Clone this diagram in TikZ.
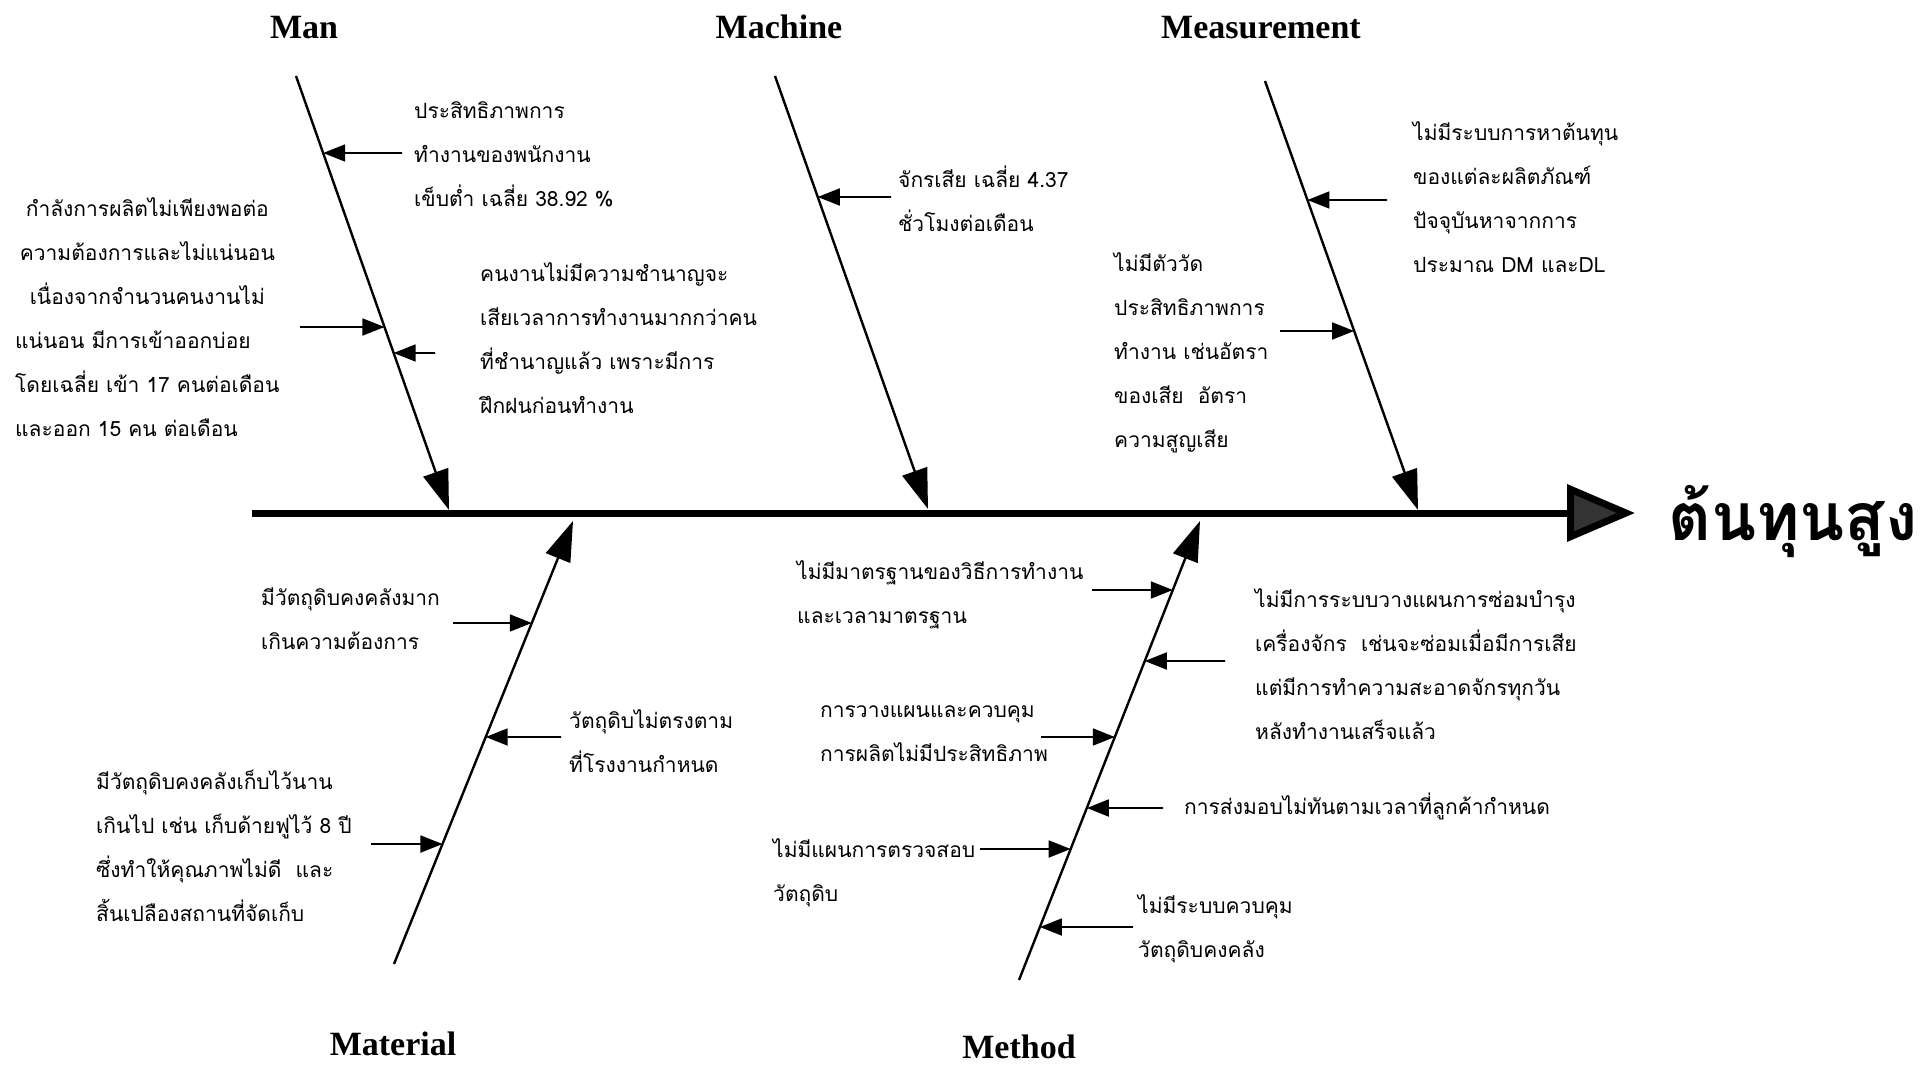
\documentclass[tikz,border=0pt]{standalone}
\usepackage{fontspec}
\setmainfont{Liberation Serif}
\newfontfamily\thaifont[Script=Thai]{Loma}
\usetikzlibrary{arrows.meta,calc}
\newcommand{\tl}[1]{\begin{tabular}[t]{@{}l@{}}#1\end{tabular}}
\begin{document}
\begin{tikzpicture}[x=1pt,y=-1pt,
  txt/.style={anchor=base west, inner sep=0pt, font=\thaifont\fontsize{21}{44}\selectfont},
  head/.style={anchor=base, inner sep=0pt, font=\bfseries\fontsize{34}{40}\selectfont},
  bone/.style={line width=2.4pt, -{Triangle[length=40pt,width=26pt]}},
  cause/.style={line width=1.8pt, -{Triangle[length=22pt,width=17pt]}},
]
\useasboundingbox[fill=white] (0,0) rectangle (1920,1065);

% spine
\coordinate (spL) at (252,513);
\coordinate (spR) at (1635,513);
\draw[line width=7pt, -{Triangle[length=68pt,width=56pt,fill=black!80]}] (spL) -- (spR);
\node[anchor=base west, inner sep=0pt, font=\thaifont\bfseries\fontsize{66}{70}\selectfont] (title) at (1668,540) {ต้นทุนสูง};

% headers
\node[head] (hman) at (304,39) {Man};
\node[head] (hmac) at (779,39) {Machine};
\node[head] (hmea) at (1261,39) {Measurement};
\node[head] (hmat) at (393,1055) {Material};
\node[head] (hmet) at (1019,1058) {Method};

% bones
\coordinate (manA) at (296,76);   \coordinate (manB) at (449,510);
\coordinate (macA) at (775,76);   \coordinate (macB) at (928,509);
\coordinate (meaA) at (1265,81);  \coordinate (meaB) at (1418,510);
\coordinate (matA) at (394,964);  \coordinate (matB) at (573,521);
\coordinate (metA) at (1019,980); \coordinate (metB) at (1200,521);
\draw[bone] (manA) -- (manB);
\draw[bone] (macA) -- (macB);
\draw[bone] (meaA) -- (meaB);
\draw[bone] (matA) -- (matB);
\draw[bone] (metA) -- (metB);

% ---- Man
\node[txt] (t1) at (414,118) {\tl{ประสิทธิภาพการ\\ทำงานของพนักงาน\\เข็บต่ำ เฉลี่ย 38.92 \%}};
\coordinate (p1) at (402,153);
\coordinate (b1) at ($(manA)!{(153-76)/434}!(manB)$);
\draw[cause] (p1) -- (b1);

\node[txt] (t2) at (15,216) {\begin{tabular}[t]{@{}l@{}}\multicolumn{1}{@{}c@{}}{กำลังการผลิตไม่เพียงพอต่อ}\\\multicolumn{1}{@{}c@{}}{ความต้องการและไม่แน่นอน}\\\multicolumn{1}{@{}c@{}}{เนื่องจากจำนวนคนงานไม่}\\แน่นอน มีการเข้าออกบ่อย\\โดยเฉลี่ย เข้า 17 คนต่อเดือน\\และออก 15 คน ต่อเดือน\end{tabular}};
\coordinate (p2) at (300,327);
\coordinate (b2) at ($(manA)!{(327-76)/434}!(manB)$);
\draw[cause] (p2) -- (b2);

\node[txt] (t3) at (480,281) {\tl{คนงานไม่มีความชำนาญจะ\\เสียเวลาการทำงานมากกว่าคน\\ที่ชำนาญแล้ว เพราะมีการ\\ฝึกฝนก่อนทำงาน}};
\coordinate (p3) at (435,353);
\coordinate (b3) at ($(manA)!{(353-76)/434}!(manB)$);
\draw[cause] (p3) -- (b3);

% ---- Machine
\node[txt] (t4) at (898,187) {\tl{จักรเสีย เฉลี่ย 4.37\\ชั่วโมงต่อเดือน}};
\coordinate (p4) at (891,197);
\coordinate (b4) at ($(macA)!{(197-76)/433}!(macB)$);
\draw[cause] (p4) -- (b4);

% ---- Measurement
\node[txt] (t5) at (1413,140) {\tl{ไม่มีระบบการหาต้นทุน\\ของแต่ละผลิตภัณฑ์\\ปัจจุบันหาจากการ\\ประมาณ DM และDL}};
\coordinate (p5) at (1387,200);
\coordinate (b5) at ($(meaA)!{(200-81)/429}!(meaB)$);
\draw[cause] (p5) -- (b5);

\node[txt] (t6) at (1114,271) {\tl{ไม่มีตัววัด\\ประสิทธิภาพการ\\ทำงาน เช่นอัตรา\\ของเสีย\ \ อัตรา\\ความสูญเสีย}};
\coordinate (p6) at (1280,331);
\coordinate (b6) at ($(meaA)!{(331-81)/429}!(meaB)$);
\draw[cause] (p6) -- (b6);

% ---- Material
\node[txt] (t7) at (261,605) {\tl{มีวัตถุดิบคงคลังมาก\\เกินความต้องการ}};
\coordinate (p7) at (453,623);
\coordinate (b7) at ($(matA)!{(964-623)/443}!(matB)$);
\draw[cause] (p7) -- (b7);

\node[txt] (t8) at (569,728) {\tl{วัตถุดิบไม่ตรงตาม\\ที่โรงงานกำหนด}};
\coordinate (p8) at (561,737);
\coordinate (b8) at ($(matA)!{(964-737)/443}!(matB)$);
\draw[cause] (p8) -- (b8);

\node[txt] (t9) at (96,789) {\tl{มีวัตถุดิบคงคลังเก็บไว้นาน\\เกินไป เช่น เก็บด้ายฟูไว้ 8 ปี\\ซึ่งทำให้คุณภาพไม่ดี\ \ และ\\สิ้นเปลืองสถานที่จัดเก็บ}};
\coordinate (p9) at (371,844);
\coordinate (b9) at ($(matA)!{(964-844)/443}!(matB)$);
\draw[cause] (p9) -- (b9);

% ---- Method
\node[txt] (t10) at (797,579) {\tl{ไม่มีมาตรฐานของวิธีการทำงาน\\และเวลามาตรฐาน}};
\coordinate (p10) at (1092,590);
\coordinate (b10) at ($(metA)!{(980-590)/459}!(metB)$);
\draw[cause] (p10) -- (b10);

\node[txt] (t11) at (1255,607) {\tl{ไม่มีการระบบวางแผนการซ่อมบำรุง\\เครื่องจักร\ \ เช่นจะซ่อมเมื่อมีการเสีย\\แต่มีการทำความสะอาดจักรทุกวัน\\หลังทำงานเสร็จแล้ว}};
\coordinate (p11) at (1225,661);
\coordinate (b11) at ($(metA)!{(980-661)/459}!(metB)$);
\draw[cause] (p11) -- (b11);

\node[txt] (t12) at (820,717) {\tl{การวางแผนและควบคุม\\การผลิตไม่มีประสิทธิภาพ}};
\coordinate (p12) at (1041,737);
\coordinate (b12) at ($(metA)!{(980-737)/459}!(metB)$);
\draw[cause] (p12) -- (b12);

\node[txt] (t13) at (1184,814) {การส่งมอบไม่ทันตามเวลาที่ลูกค้ากำหนด};
\coordinate (p13) at (1163,808);
\coordinate (b13) at ($(metA)!{(980-808)/459}!(metB)$);
\draw[cause] (p13) -- (b13);

\node[txt] (t14) at (773,857) {\tl{ไม่มีแผนการตรวจสอบ\\วัตถุดิบ}};
\coordinate (p14) at (980,849);
\coordinate (b14) at ($(metA)!{(980-849)/459}!(metB)$);
\draw[cause] (p14) -- (b14);

\node[txt] (t15) at (1138,913) {\tl{ไม่มีระบบควบคุม\\วัตถุดิบคงคลัง}};
\coordinate (p15) at (1133,927);
\coordinate (b15) at ($(metA)!{(980-927)/459}!(metB)$);
\draw[cause] (p15) -- (b15);
\end{tikzpicture}
\end{document}
